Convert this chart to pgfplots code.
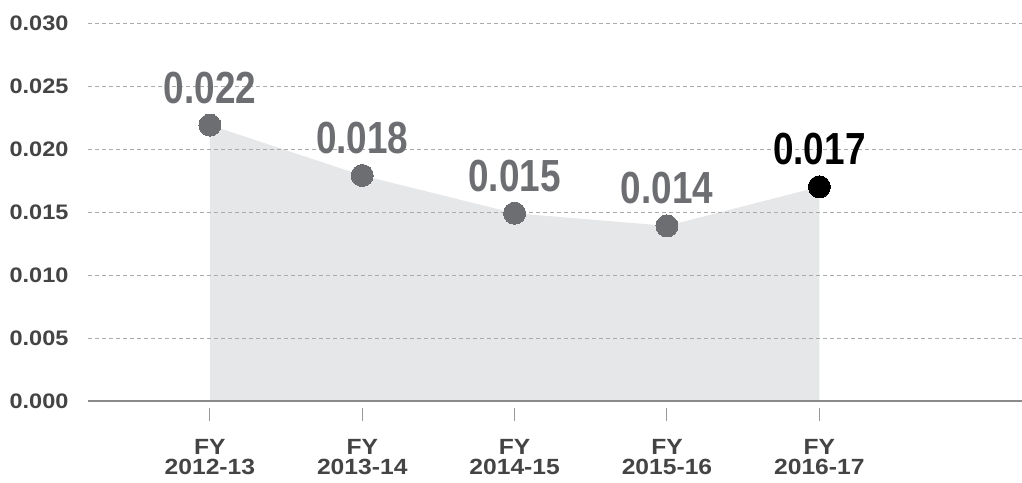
\documentclass[border=0pt]{standalone}
\usepackage{pgfplots}
\pgfplotsset{compat=1.18}
\usepackage{fontspec}
\setmainfont{Liberation Sans}
\newfontfamily\condfont[FakeStretch=0.82]{Liberation Sans}
\newfontfamily\tickfont[FakeStretch=1.12]{Liberation Sans}
\definecolor{ticklab}{HTML}{444444}
\definecolor{ptgray}{HTML}{6D6E71}
\definecolor{areagray}{HTML}{E6E7E8}
\definecolor{gridgray}{HTML}{AAAAAA}
\definecolor{axisgray}{HTML}{8A8A8A}
\definecolor{tickgray}{HTML}{999999}
\begin{document}
\begin{tikzpicture}
\begin{axis}[
  at={(0,0)}, anchor=south west,
  scale only axis, width=934pt, height=378pt,
  set layers, clip=false,
  xmin=-0.8, xmax=5.33, ymin=0, ymax=0.03,
  scaled y ticks=false,
  axis x line*=bottom, axis y line*=left,
  x axis line style={-, draw=axisgray, line width=2pt},
  y axis line style={draw=none},
  ytick={0,0.005,0.01,0.015,0.02,0.025,0.03},
  yticklabels={0.000,0.005,0.010,0.015,0.020,0.025,0.030},
  ytick style={draw=none},
  yticklabel style={font=\tickfont\bfseries\fontsize{21}{22}\selectfont, text=ticklab, xshift=-3pt},
  xtick={0,1,2,3,4},
  xticklabels={{FY\\2012-13},{FY\\2013-14},{FY\\2014-15},{FY\\2015-16},{FY\\2016-17}},
  xticklabel style={font=\tickfont\bfseries\fontsize{22}{20}\selectfont, text=ticklab, align=center, yshift=-22pt},
  tick align=outside,
  major tick length=13pt,
  xtick style={draw=tickgray, line width=1pt, yshift=-7pt},
  ymajorgrids,
  grid style={draw=gridgray, line width=0.8pt, dash pattern=on 4pt off 3pt},
]
\addplot[fill=areagray, draw=none, on layer=axis background]
  coordinates {(0,0.0219) (1,0.0179) (2,0.0149) (3,0.0139) (4,0.0170)} \closedcycle;
\addplot[only marks, color=ptgray, mark=*, mark size=11pt, mark options={fill=ptgray, draw=ptgray, line width=0pt},
  point meta=explicit symbolic, nodes near coords,
  every node near coord/.append style={font=\condfont\bfseries\fontsize{45}{45}\selectfont, text=ptgray, anchor=base, yshift=22pt}]
  coordinates {(0,0.0219)[0.022] (1,0.0179)[0.018] (2,0.0149)[0.015] (3,0.0139)[0.014]};
\addplot[only marks, color=black, mark=*, mark size=11pt, mark options={fill=black, draw=black, line width=0pt},
  point meta=explicit symbolic, nodes near coords,
  every node near coord/.append style={font=\condfont\bfseries\fontsize{45}{45}\selectfont, text=black, anchor=base, yshift=22pt}]
  coordinates {(4,0.0170)[0.017]};
\end{axis}
\pgfresetboundingbox
\path (-88pt,-81pt) rectangle (934pt,401pt);
\end{tikzpicture}
\end{document}
